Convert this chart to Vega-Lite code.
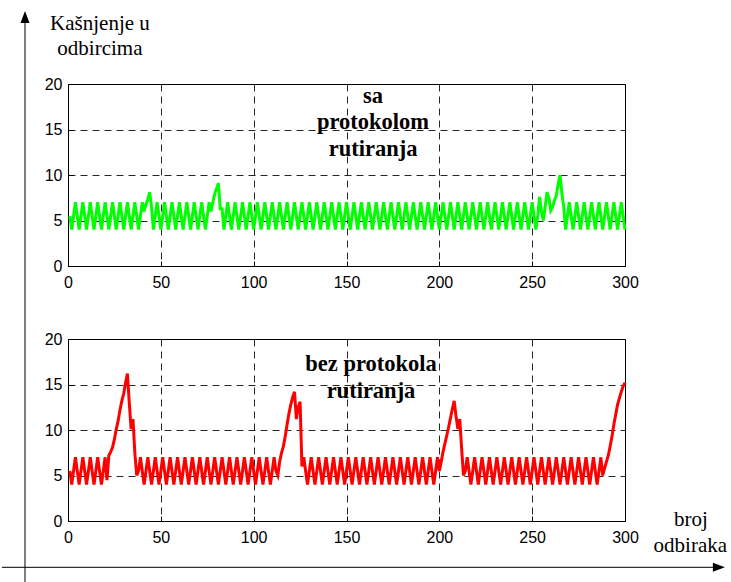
{
"$schema": "https://vega.github.io/schema/vega-lite/v6.json",
"background": "white",
"padding": {"left": 0, "top": 10, "right": 0, "bottom": 0},
"bounds": "flush",
"spacing": 73,
"config": {
  "view": {"stroke": "black", "strokeWidth": 1},
  "axis": {"domain": false, "grid": true, "gridColor": "#000", "gridDash": [7, 5], "gridOpacity": 0.85, "gridWidth": 1, "ticks": true, "tickSize": -5, "tickColor": "#000", "labelFont": "Liberation Sans", "labelFontSize": 16, "labelColor": "#000", "labelFlush": false, "labelOverlap": false},
  "axisX": {"labelPadding": 13},
  "axisY": {"labelPadding": 11}
},
"vconcat": [
{
  "width": 557, "height": 182,
  "layer": [
    {
      "data": {"values": [
{"x":1,"y":5.5},{"x":2,"y":4},{"x":3,"y":5.5},{"x":4,"y":7},
{"x":5,"y":5.5},{"x":6,"y":4},{"x":7,"y":5.5},{"x":8,"y":7},
{"x":9,"y":5.5},{"x":10,"y":4},{"x":11,"y":5.5},{"x":12,"y":7},
{"x":13,"y":5.5},{"x":14,"y":4},{"x":15,"y":5.5},{"x":16,"y":7},
{"x":17,"y":5.5},{"x":18,"y":4},{"x":19,"y":5.5},{"x":20,"y":7},
{"x":21,"y":5.5},{"x":22,"y":4},{"x":23,"y":5.5},{"x":24,"y":7},
{"x":25,"y":5.5},{"x":26,"y":4},{"x":27,"y":5.5},{"x":28,"y":7},
{"x":29,"y":5.5},{"x":30,"y":4},{"x":31,"y":5.5},{"x":32,"y":7},
{"x":33,"y":5.5},{"x":34,"y":4},{"x":35,"y":5.5},{"x":36,"y":7},
{"x":37,"y":5.5},{"x":38,"y":4},{"x":39,"y":5.5},{"x":40,"y":7},
{"x":41,"y":6},{"x":42,"y":6.8},{"x":43,"y":7.3},{"x":44,"y":8.1},{"x":45,"y":6.5},{"x":46,"y":4},{"x":47,"y":5.5},{"x":48,"y":7},
{"x":49,"y":5.5},{"x":50,"y":4},{"x":51,"y":5.5},{"x":52,"y":7},
{"x":53,"y":5.5},{"x":54,"y":4},{"x":55,"y":5.5},{"x":56,"y":7},
{"x":57,"y":5.5},{"x":58,"y":4},{"x":59,"y":5.5},{"x":60,"y":7},
{"x":61,"y":5.5},{"x":62,"y":4},{"x":63,"y":5.5},{"x":64,"y":7},
{"x":65,"y":5.5},{"x":66,"y":4},{"x":67,"y":5.5},{"x":68,"y":7},
{"x":69,"y":5.5},{"x":70,"y":4},{"x":71,"y":5.5},{"x":72,"y":7},
{"x":73,"y":5.5},{"x":74,"y":4},{"x":75,"y":5.5},{"x":76,"y":7},
{"x":77,"y":6},{"x":78,"y":7},{"x":79,"y":7.9},{"x":80,"y":8.5},{"x":81,"y":9.1},{"x":82,"y":6.3},{"x":83,"y":6.3},
{"x":84,"y":4},{"x":85,"y":5.5},{"x":86,"y":7},{"x":87,"y":5.5},
{"x":88,"y":4},{"x":89,"y":5.5},{"x":90,"y":7},{"x":91,"y":5.5},
{"x":92,"y":4},{"x":93,"y":5.5},{"x":94,"y":7},{"x":95,"y":5.5},
{"x":96,"y":4},{"x":97,"y":5.5},{"x":98,"y":7},{"x":99,"y":5.5},
{"x":100,"y":4},{"x":101,"y":5.5},{"x":102,"y":7},{"x":103,"y":5.5},
{"x":104,"y":4},{"x":105,"y":5.5},{"x":106,"y":7},{"x":107,"y":5.5},
{"x":108,"y":4},{"x":109,"y":5.5},{"x":110,"y":7},{"x":111,"y":5.5},
{"x":112,"y":4},{"x":113,"y":5.5},{"x":114,"y":7},{"x":115,"y":5.5},
{"x":116,"y":4},{"x":117,"y":5.5},{"x":118,"y":7},{"x":119,"y":5.5},
{"x":120,"y":4},{"x":121,"y":5.5},{"x":122,"y":7},{"x":123,"y":5.5},
{"x":124,"y":4},{"x":125,"y":5.5},{"x":126,"y":7},{"x":127,"y":5.5},
{"x":128,"y":4},{"x":129,"y":5.5},{"x":130,"y":7},{"x":131,"y":5.5},
{"x":132,"y":4},{"x":133,"y":5.5},{"x":134,"y":7},{"x":135,"y":5.5},
{"x":136,"y":4},{"x":137,"y":5.5},{"x":138,"y":7},{"x":139,"y":5.5},
{"x":140,"y":4},{"x":141,"y":5.5},{"x":142,"y":7},{"x":143,"y":5.5},
{"x":144,"y":4},{"x":145,"y":5.5},{"x":146,"y":7},{"x":147,"y":5.5},
{"x":148,"y":4},{"x":149,"y":5.5},{"x":150,"y":7},{"x":151,"y":5.5},
{"x":152,"y":4},{"x":153,"y":5.5},{"x":154,"y":7},{"x":155,"y":5.5},
{"x":156,"y":4},{"x":157,"y":5.5},{"x":158,"y":7},{"x":159,"y":5.5},
{"x":160,"y":4},{"x":161,"y":5.5},{"x":162,"y":7},{"x":163,"y":5.5},
{"x":164,"y":4},{"x":165,"y":5.5},{"x":166,"y":7},{"x":167,"y":5.5},
{"x":168,"y":4},{"x":169,"y":5.5},{"x":170,"y":7},{"x":171,"y":5.5},
{"x":172,"y":4},{"x":173,"y":5.5},{"x":174,"y":7},{"x":175,"y":5.5},
{"x":176,"y":4},{"x":177,"y":5.5},{"x":178,"y":7},{"x":179,"y":5.5},
{"x":180,"y":4},{"x":181,"y":5.5},{"x":182,"y":7},{"x":183,"y":5.5},
{"x":184,"y":4},{"x":185,"y":5.5},{"x":186,"y":7},{"x":187,"y":5.5},
{"x":188,"y":4},{"x":189,"y":5.5},{"x":190,"y":7},{"x":191,"y":5.5},
{"x":192,"y":4},{"x":193,"y":5.5},{"x":194,"y":7},{"x":195,"y":5.5},
{"x":196,"y":4},{"x":197,"y":5.5},{"x":198,"y":7},{"x":199,"y":5.5},
{"x":200,"y":4},{"x":201,"y":5.5},{"x":202,"y":7},{"x":203,"y":5.5},
{"x":204,"y":4},{"x":205,"y":5.5},{"x":206,"y":7},{"x":207,"y":5.5},
{"x":208,"y":4},{"x":209,"y":5.5},{"x":210,"y":7},{"x":211,"y":5.5},
{"x":212,"y":4},{"x":213,"y":5.5},{"x":214,"y":7},{"x":215,"y":5.5},
{"x":216,"y":4},{"x":217,"y":5.5},{"x":218,"y":7},{"x":219,"y":5.5},
{"x":220,"y":4},{"x":221,"y":5.5},{"x":222,"y":7},{"x":223,"y":5.5},
{"x":224,"y":4},{"x":225,"y":5.5},{"x":226,"y":7},{"x":227,"y":5.5},
{"x":228,"y":4},{"x":229,"y":5.5},{"x":230,"y":7},{"x":231,"y":5.5},
{"x":232,"y":4},{"x":233,"y":5.5},{"x":234,"y":7},{"x":235,"y":5.5},
{"x":236,"y":4},{"x":237,"y":5.5},{"x":238,"y":7},{"x":239,"y":5.5},
{"x":240,"y":4},{"x":241,"y":5.5},{"x":242,"y":7},{"x":243,"y":5.5},
{"x":244,"y":4},{"x":245,"y":5.5},{"x":246,"y":7},{"x":247,"y":5.5},
{"x":248,"y":4},{"x":249,"y":5.5},{"x":250,"y":7},{"x":251,"y":5.5},
{"x":252,"y":4},{"x":253,"y":5.5},{"x":254,"y":7.6},{"x":255,"y":6},{"x":256,"y":5},{"x":257,"y":6.5},{"x":258,"y":8.1},{"x":259,"y":7.5},{"x":260,"y":6.1},{"x":261,"y":6.5},{"x":262,"y":7.2},{"x":263,"y":7.7},{"x":264,"y":9},{"x":265,"y":10},{"x":266,"y":8},{"x":267,"y":6.5},{"x":268,"y":4},
{"x":269,"y":5.5},{"x":270,"y":7},{"x":271,"y":5.5},
{"x":272,"y":4},{"x":273,"y":5.5},{"x":274,"y":7},{"x":275,"y":5.5},
{"x":276,"y":4},{"x":277,"y":5.5},{"x":278,"y":7},{"x":279,"y":5.5},
{"x":280,"y":4},{"x":281,"y":5.5},{"x":282,"y":7},{"x":283,"y":5.5},
{"x":284,"y":4},{"x":285,"y":5.5},{"x":286,"y":7},{"x":287,"y":5.5},
{"x":288,"y":4},{"x":289,"y":5.5},{"x":290,"y":7},{"x":291,"y":5.5},
{"x":292,"y":4},{"x":293,"y":5.5},{"x":294,"y":7},{"x":295,"y":5.5},
{"x":296,"y":4},{"x":297,"y":5.5},{"x":298,"y":7},{"x":299,"y":5.5},
{"x":300,"y":4}
      ]},
      "mark": {"type": "line", "color": "#00ff00", "strokeWidth": 3},
      "encoding": {
        "x": {"field": "x", "type": "quantitative", "scale": {"domain": [0, 300], "nice": false, "zero": false}, "axis": {"values": [0, 50, 100, 150, 200, 250, 300], "title": null}},
        "y": {"field": "y", "type": "quantitative", "scale": {"domain": [0, 20], "nice": false}, "axis": {"values": [0, 5, 10, 15, 20], "title": null}}
      }
    },
    {
      "data": {"values": [
        {"x": 164.3, "y": 17.9, "t": "sa"},
        {"x": 164.3, "y": 15.05, "t": "protokolom"},
        {"x": 164.3, "y": 12.09, "t": "rutiranja"}
      ]},
      "mark": {"type": "text", "font": "Liberation Serif", "fontSize": 22.5, "fontWeight": "bold", "baseline": "alphabetic", "align": "center", "color": "#000"},
      "encoding": {
        "x": {"field": "x", "type": "quantitative"},
        "y": {"field": "y", "type": "quantitative"},
        "text": {"field": "t"}
      }
    },
    {
      "data": {"values": [
        {"x": 17.2, "y": 25.97, "t": "Kašnjenje u"},
        {"x": 17.2, "y": 23.19, "t": "odbircima"}
      ]},
      "mark": {"type": "text", "font": "Liberation Serif", "fontSize": 21, "fontWeight": "normal", "baseline": "alphabetic", "align": "center", "color": "#000", "clip": false},
      "encoding": {
        "x": {"field": "x", "type": "quantitative"},
        "y": {"field": "y", "type": "quantitative"},
        "text": {"field": "t"}
      }
    }
  ]
},
{
  "width": 557, "height": 182,
  "layer": [
    {
      "data": {"values": [
{"x":1,"y":5.5},{"x":2,"y":4},{"x":3,"y":5.5},{"x":4,"y":7},
{"x":5,"y":5.5},{"x":6,"y":4},{"x":7,"y":5.5},{"x":8,"y":7},
{"x":9,"y":5.5},{"x":10,"y":4},{"x":11,"y":5.5},{"x":12,"y":7},
{"x":13,"y":5.5},{"x":14,"y":4},{"x":15,"y":5.5},{"x":16,"y":7},
{"x":17,"y":5.5},{"x":18,"y":4},{"x":19,"y":5.5},{"x":20,"y":7},
{"x":21,"y":4.5},{"x":22,"y":7.2},{"x":23,"y":7.6},{"x":24,"y":8.1},{"x":25,"y":9},{"x":26,"y":10.1},{"x":27,"y":11},{"x":28,"y":12.2},{"x":29,"y":13.2},{"x":30,"y":14},{"x":31,"y":15.2},{"x":32,"y":16.2},{"x":33,"y":13},{"x":34,"y":10.1},{"x":35,"y":11.2},{"x":36,"y":7.5},{"x":37,"y":5},
{"x":38,"y":5.5},{"x":39,"y":7},
{"x":40,"y":5.5},{"x":41,"y":4},{"x":42,"y":5.5},{"x":43,"y":7},
{"x":44,"y":5.5},{"x":45,"y":4},{"x":46,"y":5.5},{"x":47,"y":7},
{"x":48,"y":5.5},{"x":49,"y":4},{"x":50,"y":5.5},{"x":51,"y":7},
{"x":52,"y":5.5},{"x":53,"y":4},{"x":54,"y":5.5},{"x":55,"y":7},
{"x":56,"y":5.5},{"x":57,"y":4},{"x":58,"y":5.5},{"x":59,"y":7},
{"x":60,"y":5.5},{"x":61,"y":4},{"x":62,"y":5.5},{"x":63,"y":7},
{"x":64,"y":5.5},{"x":65,"y":4},{"x":66,"y":5.5},{"x":67,"y":7},
{"x":68,"y":5.5},{"x":69,"y":4},{"x":70,"y":5.5},{"x":71,"y":7},
{"x":72,"y":5.5},{"x":73,"y":4},{"x":74,"y":5.5},{"x":75,"y":7},
{"x":76,"y":5.5},{"x":77,"y":4},{"x":78,"y":5.5},{"x":79,"y":7},
{"x":80,"y":5.5},{"x":81,"y":4},{"x":82,"y":5.5},{"x":83,"y":7},
{"x":84,"y":5.5},{"x":85,"y":4},{"x":86,"y":5.5},{"x":87,"y":7},
{"x":88,"y":5.5},{"x":89,"y":4},{"x":90,"y":5.5},{"x":91,"y":7},
{"x":92,"y":5.5},{"x":93,"y":4},{"x":94,"y":5.5},{"x":95,"y":7},
{"x":96,"y":5.5},{"x":97,"y":4},{"x":98,"y":5.5},{"x":99,"y":7},
{"x":100,"y":5.5},{"x":101,"y":4},{"x":102,"y":5.5},{"x":103,"y":7},
{"x":104,"y":5.5},{"x":105,"y":4},{"x":106,"y":5.5},{"x":107,"y":7},
{"x":108,"y":5.5},{"x":109,"y":4},{"x":110,"y":5.5},{"x":111,"y":7},
{"x":112,"y":5.5},
{"x":113,"y":5},{"x":114,"y":6.5},{"x":115,"y":7.5},{"x":116,"y":8.2},{"x":117,"y":9.3},{"x":118,"y":10.6},{"x":119,"y":11.8},{"x":120,"y":12.8},{"x":121,"y":13.6},{"x":122,"y":14.2},{"x":123,"y":11.2},{"x":124,"y":12.5},{"x":125,"y":13.1},{"x":126,"y":6},
{"x":127,"y":7},
{"x":128,"y":5.5},{"x":129,"y":4},{"x":130,"y":5.5},{"x":131,"y":7},
{"x":132,"y":5.5},{"x":133,"y":4},{"x":134,"y":5.5},{"x":135,"y":7},
{"x":136,"y":5.5},{"x":137,"y":4},{"x":138,"y":5.5},{"x":139,"y":7},
{"x":140,"y":5.5},{"x":141,"y":4},{"x":142,"y":5.5},{"x":143,"y":7},
{"x":144,"y":5.5},{"x":145,"y":4},{"x":146,"y":5.5},{"x":147,"y":7},
{"x":148,"y":5.5},{"x":149,"y":4},{"x":150,"y":5.5},{"x":151,"y":7},
{"x":152,"y":5.5},{"x":153,"y":4},{"x":154,"y":5.5},{"x":155,"y":7},
{"x":156,"y":5.5},{"x":157,"y":4},{"x":158,"y":5.5},{"x":159,"y":7},
{"x":160,"y":5.5},{"x":161,"y":4},{"x":162,"y":5.5},{"x":163,"y":7},
{"x":164,"y":5.5},{"x":165,"y":4},{"x":166,"y":5.5},{"x":167,"y":7},
{"x":168,"y":5.5},{"x":169,"y":4},{"x":170,"y":5.5},{"x":171,"y":7},
{"x":172,"y":5.5},{"x":173,"y":4},{"x":174,"y":5.5},{"x":175,"y":7},
{"x":176,"y":5.5},{"x":177,"y":4},{"x":178,"y":5.5},{"x":179,"y":7},
{"x":180,"y":5.5},{"x":181,"y":4},{"x":182,"y":5.5},{"x":183,"y":7},
{"x":184,"y":5.5},{"x":185,"y":4},{"x":186,"y":5.5},{"x":187,"y":7},
{"x":188,"y":5.5},{"x":189,"y":4},{"x":190,"y":5.5},{"x":191,"y":7},
{"x":192,"y":5.5},{"x":193,"y":4},{"x":194,"y":5.5},{"x":195,"y":7},
{"x":196,"y":5.5},{"x":197,"y":4},{"x":198,"y":5.5},{"x":199,"y":7},
{"x":200,"y":5.5},
{"x":201,"y":6.5},{"x":202,"y":7.6},{"x":203,"y":8.5},{"x":204,"y":9.4},{"x":205,"y":10.3},{"x":206,"y":11.3},{"x":207,"y":12.3},{"x":208,"y":13.2},{"x":209,"y":11.5},{"x":210,"y":10.1},{"x":211,"y":11.2},{"x":212,"y":8},{"x":213,"y":5},
{"x":214,"y":5.5},{"x":215,"y":7},
{"x":216,"y":5.5},{"x":217,"y":4},{"x":218,"y":5.5},{"x":219,"y":7},
{"x":220,"y":5.5},{"x":221,"y":4},{"x":222,"y":5.5},{"x":223,"y":7},
{"x":224,"y":5.5},{"x":225,"y":4},{"x":226,"y":5.5},{"x":227,"y":7},
{"x":228,"y":5.5},{"x":229,"y":4},{"x":230,"y":5.5},{"x":231,"y":7},
{"x":232,"y":5.5},{"x":233,"y":4},{"x":234,"y":5.5},{"x":235,"y":7},
{"x":236,"y":5.5},{"x":237,"y":4},{"x":238,"y":5.5},{"x":239,"y":7},
{"x":240,"y":5.5},{"x":241,"y":4},{"x":242,"y":5.5},{"x":243,"y":7},
{"x":244,"y":5.5},{"x":245,"y":4},{"x":246,"y":5.5},{"x":247,"y":7},
{"x":248,"y":5.5},{"x":249,"y":4},{"x":250,"y":5.5},{"x":251,"y":7},
{"x":252,"y":5.5},{"x":253,"y":4},{"x":254,"y":5.5},{"x":255,"y":7},
{"x":256,"y":5.5},{"x":257,"y":4},{"x":258,"y":5.5},{"x":259,"y":7},
{"x":260,"y":5.5},{"x":261,"y":4},{"x":262,"y":5.5},{"x":263,"y":7},
{"x":264,"y":5.5},{"x":265,"y":4},{"x":266,"y":5.5},{"x":267,"y":7},
{"x":268,"y":5.5},{"x":269,"y":4},{"x":270,"y":5.5},{"x":271,"y":7},
{"x":272,"y":5.5},{"x":273,"y":4},{"x":274,"y":5.5},{"x":275,"y":7},
{"x":276,"y":5.5},{"x":277,"y":4},{"x":278,"y":5.5},{"x":279,"y":7},
{"x":280,"y":5.5},{"x":281,"y":4},{"x":282,"y":5.5},{"x":283,"y":7},
{"x":284,"y":5.5},{"x":285,"y":4},{"x":286,"y":5.5},{"x":287,"y":7},
{"x":288,"y":5},{"x":289,"y":5.8},{"x":290,"y":6.5},{"x":291,"y":7.2},{"x":292,"y":8.2},{"x":293,"y":9.3},{"x":294,"y":10.6},{"x":295,"y":11.7},{"x":296,"y":12.8},{"x":297,"y":13.5},{"x":298,"y":14.2},{"x":299,"y":14.8},{"x":300,"y":15.2}
      ]},
      "mark": {"type": "line", "color": "#ff0000", "strokeWidth": 3},
      "encoding": {
        "x": {"field": "x", "type": "quantitative", "scale": {"domain": [0, 300], "nice": false, "zero": false}, "axis": {"values": [0, 50, 100, 150, 200, 250, 300], "title": null}},
        "y": {"field": "y", "type": "quantitative", "scale": {"domain": [0, 20], "nice": false}, "axis": {"values": [0, 5, 10, 15, 20], "title": null}}
      }
    },
    {
      "data": {"values": [
        {"x": 163.2, "y": 16.52, "t": "bez protokola"},
        {"x": 163.2, "y": 13.48, "t": "rutiranja"}
      ]},
      "mark": {"type": "text", "font": "Liberation Serif", "fontSize": 22.5, "fontWeight": "bold", "baseline": "alphabetic", "align": "center", "color": "#000"},
      "encoding": {
        "x": {"field": "x", "type": "quantitative"},
        "y": {"field": "y", "type": "quantitative"},
        "text": {"field": "t"}
      }
    },
    {
      "data": {"values": [
        {"x": 335.5, "y": -0.52, "t": "broj"},
        {"x": 335.2, "y": -3.44, "t": "odbiraka"}
      ]},
      "mark": {"type": "text", "font": "Liberation Serif", "fontSize": 21, "fontWeight": "normal", "baseline": "alphabetic", "align": "center", "color": "#000", "clip": false},
      "encoding": {
        "x": {"field": "x", "type": "quantitative"},
        "y": {"field": "y", "type": "quantitative"},
        "text": {"field": "t"}
      }
    },
    {
      "data": {"values": [
        {"x": -23.16, "y": 55.5, "x2": -23.16, "y2": -6.7},
        {"x": -35.6, "y": -5.09, "x2": 352, "y2": -5.09}
      ]},
      "mark": {"type": "rule", "color": "#000", "strokeWidth": 1, "clip": false},
      "encoding": {
        "x": {"field": "x", "type": "quantitative"},
        "y": {"field": "y", "type": "quantitative"},
        "x2": {"field": "x2"},
        "y2": {"field": "y2"}
      }
    },
    {
      "data": {"values": [{"x": 353.8, "y": -5.09}]},
      "mark": {"type": "point", "shape": "M0,0 L-2,-0.75 L-2,0.75 Z", "filled": true, "color": "#000", "opacity": 1, "size": 144, "strokeWidth": 0, "clip": false},
      "encoding": {
        "x": {"field": "x", "type": "quantitative"},
        "y": {"field": "y", "type": "quantitative"}
      }
    },
    {
      "data": {"values": [{"x": -23.16, "y": 56.04}]},
      "mark": {"type": "point", "shape": "M0,0 L-0.75,2 L0.75,2 Z", "filled": true, "color": "#000", "opacity": 1, "size": 144, "strokeWidth": 0, "clip": false},
      "encoding": {
        "x": {"field": "x", "type": "quantitative"},
        "y": {"field": "y", "type": "quantitative"}
      }
    }
  ]
}
]
}
